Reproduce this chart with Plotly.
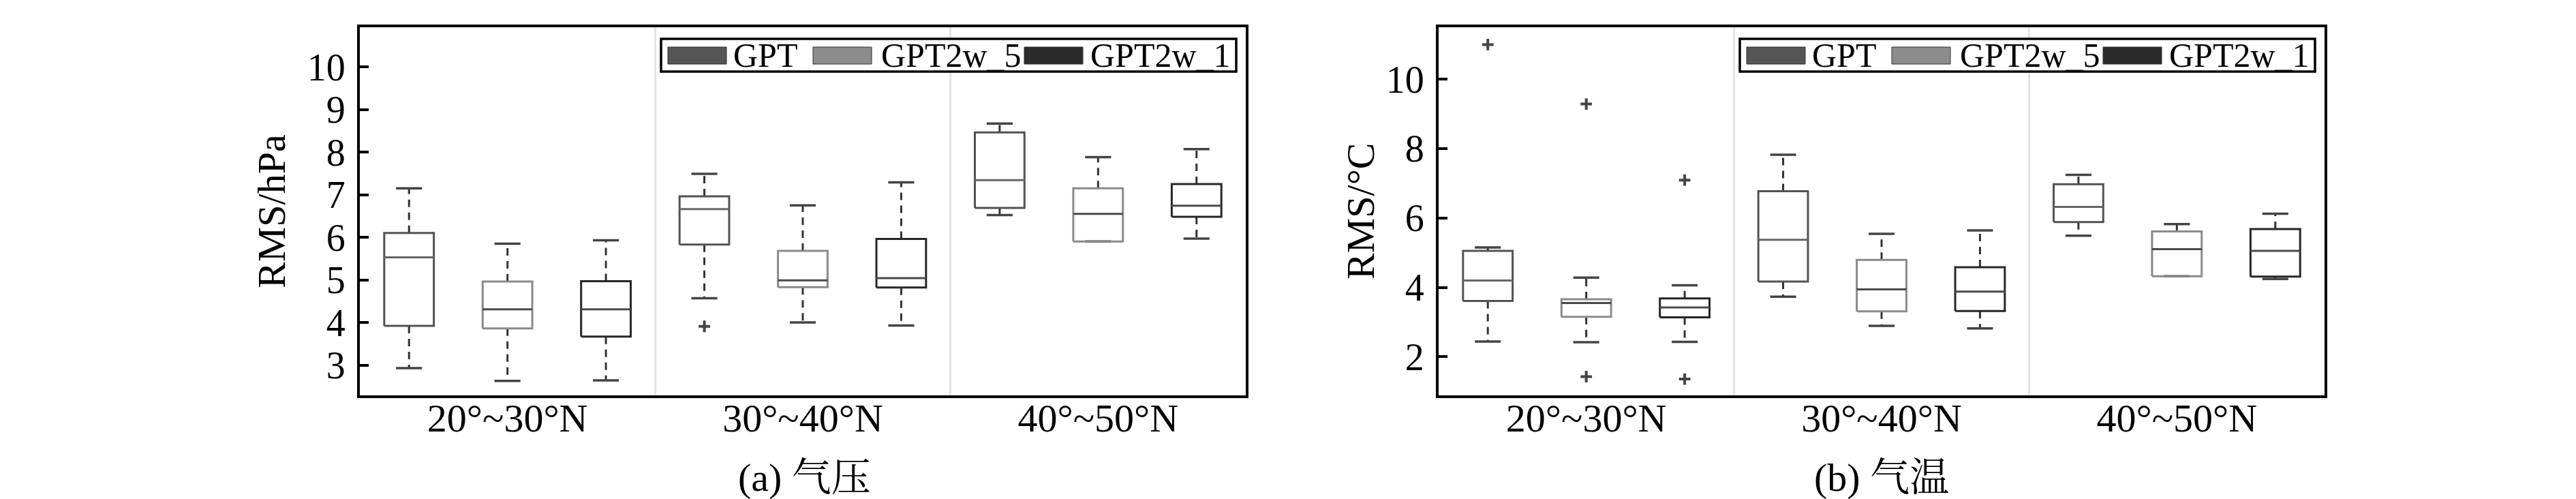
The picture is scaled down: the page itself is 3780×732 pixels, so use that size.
import plotly.graph_objects as go

W, H = 3780, 732

groups = ["20°~30°N", "30°~40°N", "40°~50°N"]
series = ["GPT", "GPT2w_5", "GPT2w_1"]

# (a) pressure RMS, hPa -- per series, one value per latitude band
pres_low = {"GPT": [2.93, 4.57, 6.52], "GPT2w_5": [2.63, 4.00, 5.90], "GPT2w_1": [2.64, 3.93, 5.97]}
pres_q1 = {"GPT": [3.92, 5.83, 6.69], "GPT2w_5": [3.86, 4.83, 5.90], "GPT2w_1": [3.67, 4.82, 6.48]}
pres_med = {"GPT": [5.53, 6.66, 7.34], "GPT2w_5": [4.31, 4.99, 6.55], "GPT2w_1": [4.31, 5.04, 6.74]}
pres_q3 = {"GPT": [6.10, 6.96, 8.46], "GPT2w_5": [4.96, 5.68, 7.15], "GPT2w_1": [4.97, 5.96, 7.25]}
pres_high = {"GPT": [7.15, 7.49, 8.67], "GPT2w_5": [5.85, 6.75, 7.88], "GPT2w_1": [5.93, 7.29, 8.07]}
pres_out_band = {"GPT": [1], "GPT2w_5": [], "GPT2w_1": []}
pres_out_val = {"GPT": [3.91], "GPT2w_5": [], "GPT2w_1": []}

# (b) temperature RMS, °C
temp_low = {"GPT": [2.44, 3.73, 5.49], "GPT2w_5": [2.42, 2.89, 4.32], "GPT2w_1": [2.43, 2.82, 4.24]}
temp_q1 = {"GPT": [3.61, 4.17, 5.88], "GPT2w_5": [3.15, 3.31, 4.32], "GPT2w_1": [3.14, 3.32, 4.31]}
temp_med = {"GPT": [4.20, 5.37, 6.32], "GPT2w_5": [3.55, 3.94, 5.10], "GPT2w_1": [3.42, 3.88, 5.05]}
temp_q3 = {"GPT": [5.05, 6.77, 6.97], "GPT2w_5": [3.66, 4.79, 5.61], "GPT2w_1": [3.68, 4.58, 5.68]}
temp_high = {"GPT": [5.15, 7.82, 7.24], "GPT2w_5": [4.28, 5.54, 5.82], "GPT2w_1": [4.06, 5.64, 6.12]}
temp_out_band = {"GPT": [0], "GPT2w_5": [0, 0], "GPT2w_1": [0, 0]}
temp_out_val = {"GPT": [10.99], "GPT2w_5": [9.28, 1.43], "GPT2w_1": [7.09, 1.36]}

box_color = {"GPT": "#525252", "GPT2w_5": "#8a8a8a", "GPT2w_1": "#262626"}
med_color = {"GPT": "#666666", "GPT2w_5": "#4a4a4a", "GPT2w_1": "#4a4a4a"}
swatch_color = {"GPT": "#555555", "GPT2w_5": "#8c8c8c", "GPT2w_1": "#2b2b2b"}
offsets = [-1 / 3, 0, 1 / 3]
HW, CW = 0.084, 0.044   # box / cap half widths in axis units

FONT = "Liberation Serif, Times New Roman, Noto Serif CJK SC, Noto Sans CJK SC, serif"

fig = go.Figure()


def add_boxes(xa, ya, low, q1, med, q3, high, ob, ov):
    for k, s in enumerate(series):
        bx, by, wx, wy, cx, cy, mx, my = [], [], [], [], [], [], [], []
        for g in range(len(groups)):
            x = g + 1 + offsets[k]
            bx += [x - HW, x + HW, x + HW, x - HW, x - HW, None]
            by += [q1[s][g], q1[s][g], q3[s][g], q3[s][g], q1[s][g], None]
            wx += [x, x, None, x, x, None]
            wy += [q3[s][g], high[s][g], None, q1[s][g], low[s][g], None]
            cx += [x - CW, x + CW, None, x - CW, x + CW, None]
            cy += [high[s][g], high[s][g], None, low[s][g], low[s][g], None]
            mx += [x - HW, x + HW, None]
            my += [med[s][g], med[s][g], None]
        common = dict(xaxis=xa, yaxis=ya, mode="lines", showlegend=False, hoverinfo="skip")
        fig.add_trace(go.Scatter(x=wx, y=wy, line=dict(color="#333333", width=3, dash="11px,8px"), **common))
        fig.add_trace(go.Scatter(x=cx, y=cy, line=dict(color="#444444", width=3.5), **common))
        fig.add_trace(go.Scatter(x=bx, y=by, line=dict(color=box_color[s], width=3), **common))
        fig.add_trace(go.Scatter(x=mx, y=my, line=dict(color=med_color[s], width=3), **common))
        if ov[s]:
            fig.add_trace(go.Scatter(
                x=[b + 1 + offsets[k] for b in ob[s]], y=ov[s], xaxis=xa, yaxis=ya,
                mode="markers", showlegend=False, hoverinfo="skip",
                marker=dict(symbol="cross-thin", size=12, line=dict(color="#444444", width=4)),
            ))


add_boxes("x", "y", pres_low, pres_q1, pres_med, pres_q3, pres_high, pres_out_band, pres_out_val)
add_boxes("x2", "y2", temp_low, temp_q1, temp_med, temp_q3, temp_high, temp_out_band, temp_out_val)


def px(x):
    return x / W


def py(y):
    return 1 - y / H


ydom = [py(572), py(32)]
xaxis_common = dict(
    range=[0.5, 3.5], tickmode="array", tickvals=[1, 2, 3], ticktext=groups, ticks="",
    showline=True, mirror=True, linecolor="black", linewidth=4, showgrid=False, zeroline=False,
    tickfont=dict(family=FONT, size=58, color="black"), ticklabelstandoff=-21,
    minor=dict(tickmode="array", tickvals=[1.5, 2.5], showgrid=True, gridcolor="#e3e3e3", gridwidth=3, ticks=""),
)
yaxis_common = dict(
    domain=ydom, ticks="inside", ticklen=13, tickwidth=4, tickcolor="black",
    showline=True, mirror=True, linecolor="black", linewidth=4, showgrid=False, zeroline=False,
    tickfont=dict(family=FONT, size=56, color="black"), ticklabelstandoff=6,
)

fig.update_layout(
    width=W, height=H, margin=dict(l=0, r=0, t=0, b=0),
    paper_bgcolor="white", plot_bgcolor="white", showlegend=False,
    xaxis=dict(domain=[px(520), px(1820)], anchor="y", **xaxis_common),
    yaxis=dict(anchor="x", range=[2.29, 10.93], tickvals=[3, 4, 5, 6, 7, 8, 9, 10], **yaxis_common),
    xaxis2=dict(domain=[px(2103), px(3403)], anchor="y2", **xaxis_common),
    yaxis2=dict(anchor="x2", range=[0.89, 11.49], tickvals=[2, 4, 6, 8, 10], **yaxis_common),
)

# axis titles and captions
for x, text in [(390, "RMS/hPa"), (1988, "RMS/°C")]:
    fig.add_annotation(x=px(x), y=py(302), xref="paper", yref="paper", text=text, textangle=-90,
                       xanchor="center", yanchor="middle",
                       showarrow=False, font=dict(family=FONT, size=58, color="black"))
for x, text in [(1172, "(a) 气压"), (2753, "(b) 气温")]:
    fig.add_annotation(x=px(x), y=py(692), xref="paper", yref="paper", text=text,
                       xanchor="center", yanchor="middle",
                       showarrow=False, font=dict(family=FONT, size=58, color="black"))

# boxed legends, drawn the MATLAB way: wide colour swatches followed by names
swatch_dx = [10, 223, 533]
text_dx = [104, 321, 628]
for left in [962, 2545]:
    fig.add_shape(type="rect", xref="paper", yref="paper", x0=px(left), x1=px(left + 844),
                  y0=py(97), y1=py(49), line=dict(color="black", width=3.5), fillcolor="white")
    for k, s in enumerate(series):
        fig.add_shape(type="rect", xref="paper", yref="paper",
                      x0=px(left + swatch_dx[k]), x1=px(left + swatch_dx[k] + 86),
                      y0=py(86), y1=py(61), line=dict(color="#333333", width=1),
                      fillcolor=swatch_color[s])
        fig.add_annotation(x=px(left + text_dx[k]), y=py(73), xref="paper", yref="paper",
                           text=s, xanchor="left", yanchor="middle", showarrow=False,
                           font=dict(family=FONT, size=50, color="black"))

fig.write_html("out.html")
